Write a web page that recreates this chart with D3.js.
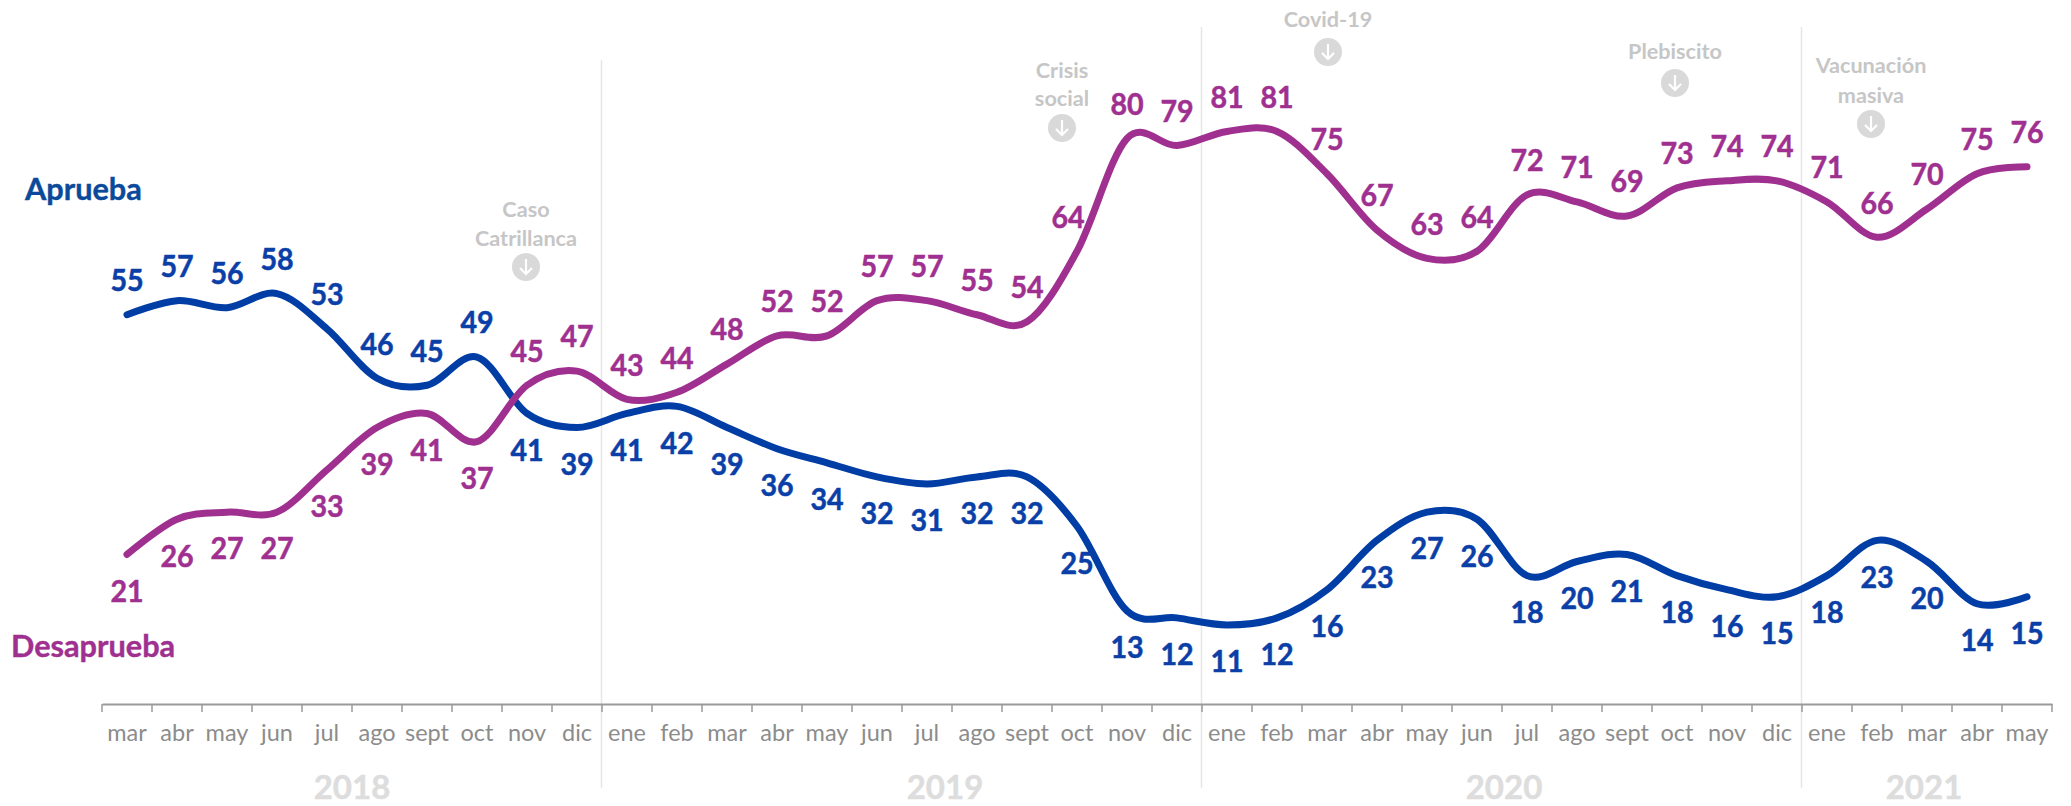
<!DOCTYPE html>
<html><head><meta charset="utf-8">
<script src="https://cdnjs.cloudflare.com/ajax/libs/d3/7.8.5/d3.min.js"></script>
<style>html,body{margin:0;background:#fff}svg{display:block}text{font-family:Lato,sans-serif}</style>
</head><body><svg id="c" width="2071" height="806"></svg>
<script>
const months=["mar","abr","may","jun","jul","ago","sept","oct","nov","dic","ene","feb","mar","abr","may","jun","jul","ago","sept","oct","nov","dic","ene","feb","mar","abr","may","jun","jul","ago","sept","oct","nov","dic","ene","feb","mar","abr","may"];
const aprueba=[55,57,56,58,53,46,45,49,41,39,41,42,39,36,34,32,31,32,32,25,13,12,11,12,16,23,27,26,18,20,21,18,16,15,18,23,20,14,15];
const desaprueba=[21,26,27,27,33,39,41,37,45,47,43,44,48,52,52,57,57,55,54,64,80,79,81,81,75,67,63,64,72,71,69,73,74,74,71,66,70,75,76];
const years=["2018","2019","2020","2021"];
const yearCenters=[352,945,1504,1924];
const yearBreaks=[10,22,34];
const events=[["Caso","Catrillanca"],["Crisis","social"],["Covid-19"],["Plebiscito"],["Vacunación","masiva"]];

const svg=d3.select("#c");
const x=d3.scaleBand().domain(d3.range(months.length)).range([102,2052]);
const cx=i=>x(i)+x.bandwidth()/2;
const y=d3.scaleLinear().domain([0,81]).range([702.5,702.5-81*7.05]);
const BLUE="#003da5",PURPLE="#a03090",BLUET="#0a3fa8";
// Adjust Lato's width to the reference face while keeping its height
function squeeze(sel,f){sel.each(function(){const n=this.getComputedTextLength();this.setAttribute("textLength",n*f);this.setAttribute("lengthAdjust","spacingAndGlyphs");});}

const breakTop=[60,27,27];
svg.selectAll("line.b").data(yearBreaks).join("line").attr("class","b")
  .attr("x1",d=>x(d)-0.5).attr("x2",d=>x(d)-0.5).attr("y1",(d,i)=>breakTop[i]).attr("y2",788)
  .attr("stroke","#e6e6e6").attr("stroke-width",1.5);

const ax=svg.append("g").attr("transform","translate(0,704)")
  .call(d3.axisBottom(x).tickSize(0).tickPadding(20).tickFormat(i=>months[i]));
ax.select(".domain").attr("stroke","#9a9a9a").attr("stroke-width",2);
ax.selectAll("text").attr("font-size",23.5).attr("fill","#8c8c8c").style("font-family","Lato,sans-serif").call(squeeze,1.0);
svg.append("g").selectAll("line").data(d3.range(months.length+1)).join("line")
  .attr("x1",i=>102+i*x.step()).attr("x2",i=>102+i*x.step()).attr("y1",704).attr("y2",712)
  .attr("stroke","#9a9a9a").attr("stroke-width",1.5);

svg.selectAll("text.y").data(years).join("text").attr("class","y")
  .attr("x",(d,i)=>yearCenters[i]).attr("y",799).attr("text-anchor","middle")
  .attr("font-size",33).attr("font-weight",700).attr("fill","#dddddd").attr("stroke","#dddddd").attr("stroke-width",0.5).text(d=>d).call(squeeze,1.0);

const line=d3.line().x((d,i)=>cx(i)).y(d=>y(d)).curve(d3.curveCatmullRom.alpha(0));
[[aprueba,BLUE],[desaprueba,PURPLE]].forEach(([s,c])=>{
  svg.append("path").datum(s).attr("d",line).attr("fill","none").attr("stroke",c)
    .attr("stroke-width",7).attr("stroke-linecap","round").attr("stroke-linejoin","round");
});

const dxFix={d19:-9};
function labels(s,c,key,other){
  svg.append("g").selectAll("text").data(s).join("text")
    .attr("x",(d,i)=>cx(i)+(dxFix[key+i]||0))
    .attr("y",(d,i)=>y(d)+(d>other[i]?-34:37))
    .attr("dy","0.35em").attr("text-anchor","middle")
    .attr("font-size",29.5).attr("font-weight",700).attr("fill",c).attr("stroke",c).attr("stroke-width",0.5).text(d=>d).call(squeeze,0.97);
}
labels(aprueba,BLUET,"a",desaprueba);
labels(desaprueba,PURPLE,"d",aprueba);

svg.append("text").attr("x",25).attr("y",200).attr("font-size",31).attr("font-weight",700).attr("fill","#0b4a9a").attr("stroke","#0b4a9a").attr("stroke-width",0.4).text("Aprueba").call(squeeze,0.99);
svg.append("text").attr("x",11).attr("y",657).attr("font-size",31).attr("font-weight",700).attr("fill",PURPLE).attr("stroke",PURPLE).attr("stroke-width",0.4).text("Desaprueba").call(squeeze,0.99);

const eventPos=[{x:526,y:[210,239],cx:526,cy:267},{x:1062,y:[71,99],cx:1062,cy:128},{x:1328,y:[20],cx:1328,cy:52},{x:1675,y:[52],cx:1675,cy:83},{x:1871,y:[66,96],cx:1871,cy:124}];
events.forEach((ev,k)=>{
  const p=eventPos[k];
  ev.forEach((t,j)=>svg.append("text").attr("x",p.x).attr("y",p.y[j]).attr("dy","0.35em").attr("text-anchor","middle")
    .attr("font-size",21).attr("font-weight",700).attr("fill","#c6c6c6").text(t).call(squeeze,1.03));
  const g=svg.append("g").attr("transform",`translate(${p.cx},${p.cy})`);
  g.append("circle").attr("r",14).attr("fill","#d9d9d9");
  g.append("path").attr("d","M0,-8V7M-6,1L0,7L6,1").attr("fill","none").attr("stroke","#fff").attr("stroke-width",2.2);
});
</script></body></html>
